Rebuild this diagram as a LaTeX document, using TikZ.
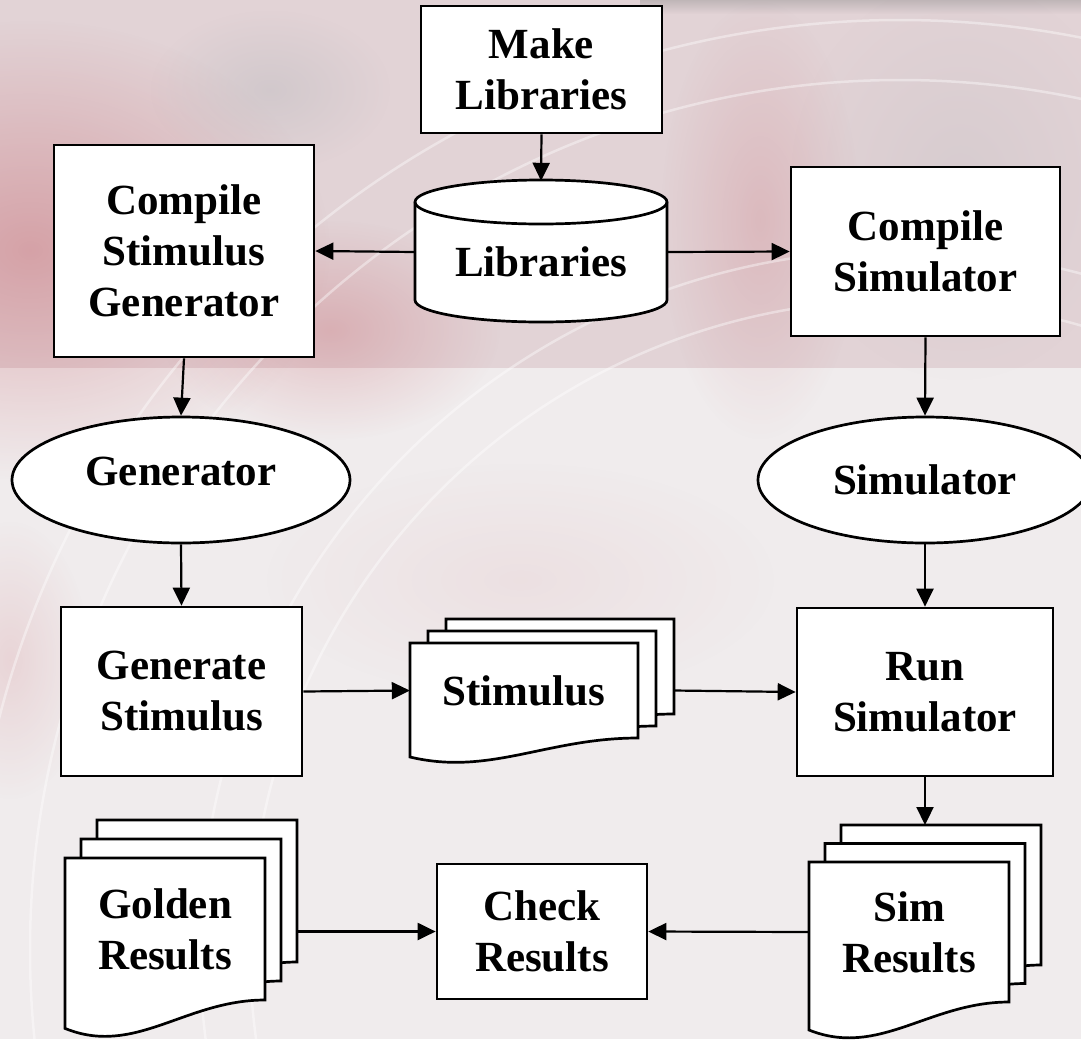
\documentclass[tikz,border=0pt]{standalone}
\usepackage{fontspec}
\setmainfont{Liberation Serif}
\usetikzlibrary{arrows.meta,shapes.geometric,fadings}
\definecolor{bgbase}{RGB}{240,236,237}
\definecolor{bgtop}{RGB}{226,211,214}
\definecolor{bgred}{RGB}{190,70,80}
\definecolor{bggray}{RGB}{190,188,192}
\tikzfading[name=softglow,inner color=transparent!0,outer color=transparent!100]
\tikzfading[name=topdown,top color=transparent!0,bottom color=transparent!100]
\newcommand{\diagfont}{\fontsize{43}{51}\selectfont\bfseries}
% one page of a document symbol: left x, top y, right x, y of right bottom end
\newcommand{\docpage}[4]{%
  \filldraw[page] ({#1},{#2}) -- ({#3},{#2}) -- ({#3},{#4})
    .. controls ({(#1)+0.6*((#3)-(#1))},{#4}) and ({(#1)+0.35*((#3)-(#1))},{(#4)+0.4*((#4)-(#2))})
    .. ({#1},{(#4)+0.2*((#4)-(#2))}) -- cycle;}
% stack of three pages: front page geometry, then offset dx (right) and dy (up)
\newcommand{\docstack}[6]{%
  \docpage{(#1)+2*(#5)}{(#2)-2*(#6)}{(#3)+2*(#5)}{(#4)-2*(#6)}%
  \docpage{(#1)+(#5)}{(#2)-(#6)}{(#3)+(#5)}{(#4)-(#6)}%
  \docpage{#1}{#2}{#3}{#4}}
\begin{document}
\begin{tikzpicture}[x=1pt,y=-1pt,
  box/.style={rectangle,draw=black,fill=white,line width=2.7pt,inner sep=0pt,font=\diagfont,align=center},
  oval/.style={ellipse,draw=black,fill=white,line width=2.7pt,inner sep=0pt,font=\diagfont,align=center},
  doc/.style={rectangle,inner sep=0pt,font=\diagfont,align=center},
  page/.style={draw=black,fill=white,line width=2.7pt,line join=miter},
  arr/.style={line width=2.2pt,-{Triangle[length=18pt,width=17pt]}},
  glow/.style={path fading=softglow}]
\useasboundingbox (0,0) rectangle (1081,1039);
% ---------- background ----------
\begin{scope}
\clip (0,0) rectangle (1081,1039);
\fill[bgbase] (0,0) rectangle (1081,1039);
\fill[bgtop] (0,0) rectangle (1081,368);
\fill[bgred,opacity=.35,glow] (30,250) ellipse[x radius=300pt,y radius=230pt];
\fill[bgred,opacity=.25,glow] (330,330) ellipse[x radius=170pt,y radius=110pt];
\fill[bgred,opacity=.18,glow] (760,220) ellipse[x radius=100pt,y radius=220pt];
\fill[bgred,opacity=.14,glow] (10,660) ellipse[x radius=80pt,y radius=140pt];
\fill[bgred,opacity=.07,glow] (520,580) ellipse[x radius=260pt,y radius=120pt];
\fill[bggray,opacity=.45,glow] (270,90) ellipse[x radius=120pt,y radius=80pt];
\fill[bggray,opacity=.3,glow] (960,180) ellipse[x radius=170pt,y radius=200pt];
\fill[black!50,opacity=.35,path fading=topdown] (640,0) rectangle (1081,14);
\begin{scope}[white,line width=2.5pt,opacity=.4]
\draw (900,950) circle[radius=930pt];
\draw (900,950) circle[radius=870pt];
\draw (900,950) circle[radius=700pt];
\draw (900,950) circle[radius=650pt];
\end{scope}
\end{scope}
% ---------- nodes ----------
\node[box,minimum width=241pt,minimum height=127pt] (make) at (541.5,69.5) {Make\\Libraries};
% cylinder outline
\filldraw[page] (415,202) -- (415,300) arc[start angle=180,end angle=360,x radius=126pt,y radius=22pt]
   -- (667,202) arc[start angle=0,end angle=180,x radius=126pt,y radius=22pt] -- cycle;
\draw[line width=2.7pt] (415,202) arc[start angle=180,end angle=360,x radius=126pt,y radius=22pt];
\node[doc,minimum width=252pt,minimum height=142pt,text height=49pt,text depth=0pt] (lib) at (541,252) {Libraries};
\node[box,minimum width=260pt,minimum height=212pt] (csg) at (184,251) {Compile\\Stimulus\\Generator};
\node[box,minimum width=269pt,minimum height=169pt] (csim) at (925.5,251.5) {Compile\\Simulator};
\node[oval,minimum width=338pt,minimum height=126pt,text height=29pt,text depth=18pt] (gen) at (181,480) {Generator};
\node[oval,minimum width=334pt,minimum height=126pt] (sim) at (925,480) {Simulator};
\node[box,minimum width=241pt,minimum height=169pt] (gs) at (181.5,691.5) {Generate\\Stimulus};
\node[box,minimum width=256pt,minimum height=168pt] (run) at (925,692) {Run\\Simulator};
\node[box,minimum width=210pt,minimum height=135pt] (check) at (542,931.5) {Check\\Results};
% document stacks
\docstack{410}{643}{638}{738}{18}{12}
\node[doc,minimum width=228pt,minimum height=95pt] (stim) at (524,690.5) {Stimulus};
\coordinate (stimout) at (674,690.5);
\docstack{809}{862}{1009}{1002}{16}{18.5}
\node[doc,minimum width=200pt,minimum height=140pt] (simres) at (909,932) {Sim\\Results};
\coordinate (simin) at (925,825);
\docstack{65}{858}{265}{1000}{16}{19}
\node[doc,minimum width=200pt,minimum height=142pt] (gold) at (165,929) {Golden\\Results};
\coordinate (goldout) at (297,931.5);
% ---------- connectors ----------
\draw[arr] (make.south) -- (lib.north);
\draw[arr] (lib.west) -- (csg.east);
\draw[arr] (lib.east) -- (csim.west);
\draw[arr] (csg.south) -- (gen.north);
\draw[arr] (csim.south) -- (sim.north);
\draw[arr] (gen.south) -- (gs.north);
\draw[arr] (sim.south) -- (run.north);
\draw[arr] (gs.east) -- (stim.west);
\draw[arr] (stimout) -- (run.west);
\draw[arr] (run.south) -- (simin);
\draw[arr] (goldout) -- (check.west);
\draw[arr] (simres.west) -- (check.east);
\end{tikzpicture}
\end{document}
